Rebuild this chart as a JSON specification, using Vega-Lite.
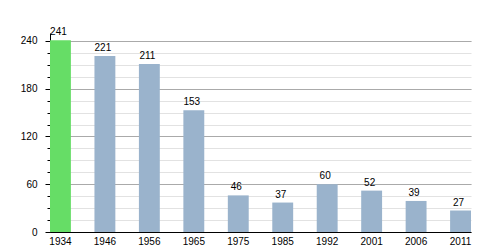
{
  "$schema": "https://vega.github.io/schema/vega-lite/v6.json",
  "width": 421,
  "height": 199,
  "autosize": {"type": "none"},
  "padding": {"left": 50, "top": 33, "right": 29, "bottom": 18},
  "config": {
    "view": {"stroke": null},
    "font": "Liberation Sans",
    "axis": {"labelFont": "Liberation Sans", "labelFontSize": 10, "labelColor": "#000000", "titleFont": "Liberation Sans"}
  },
  "data": {
    "values": [
      {"year": "1934", "pop": 241},
      {"year": "1946", "pop": 221},
      {"year": "1956", "pop": 211},
      {"year": "1965", "pop": 153},
      {"year": "1975", "pop": 46},
      {"year": "1985", "pop": 37},
      {"year": "1992", "pop": 60},
      {"year": "2001", "pop": 52},
      {"year": "2006", "pop": 39},
      {"year": "2011", "pop": 27}
    ]
  },
  "encoding": {
    "x": {
      "field": "year",
      "type": "nominal",
      "sort": null,
      "scale": {"paddingInner": 0.53, "paddingOuter": 0},
      "axis": {"title": null, "labelAngle": 0, "ticks": false, "domainColor": "#000000", "labelPadding": 4, "grid": false}
    }
  },
  "layer": [
    {
      "mark": {"type": "bar"},
      "encoding": {
        "y": {
          "field": "pop",
          "type": "quantitative",
          "scale": {"domain": [0, 250], "nice": false},
          "axis": {
            "orient": "left",
            "title": null,
            "values": [0, 15, 30, 45, 60, 75, 90, 105, 120, 135, 150, 165, 180, 195, 210, 225, 240],
            "labels": false,
            "tickSize": 3,
            "tickColor": "#000000",
            "grid": true,
            "gridColor": "#e2e2e2",
            "domain": true,
            "domainColor": "#000000"
          }
        },
        "color": {
          "condition": {"test": "datum.year === '1934'", "value": "#66dd66"},
          "value": "#9ab3cc"
        }
      }
    },
    {
      "mark": {"type": "text", "dy": -5, "dx": -2, "baseline": "alphabetic", "fontSize": 10, "color": "#000000"},
      "encoding": {
        "y": {
          "field": "pop",
          "type": "quantitative",
          "axis": {
            "orient": "left",
            "title": null,
            "values": [0, 60, 120, 180, 240],
            "tickSize": 5,
            "tickColor": "#000000",
            "labelPadding": 8,
            "grid": true,
            "gridColor": "#aaaaaa",
            "domain": false
          }
        },
        "text": {"field": "pop", "type": "quantitative"}
      }
    }
  ],
  "resolve": {"axis": {"y": "independent"}}
}
